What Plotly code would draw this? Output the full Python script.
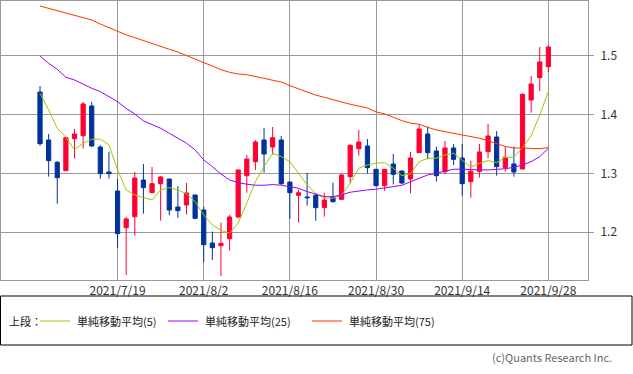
import plotly.graph_objects as go

dates = ["2021/7/6","2021/7/7","2021/7/8","2021/7/9","2021/7/12","2021/7/13","2021/7/14","2021/7/15","2021/7/16",
         "2021/7/19","2021/7/20","2021/7/21","2021/7/22","2021/7/23","2021/7/26","2021/7/27","2021/7/28","2021/7/29","2021/7/30",
         "2021/8/2","2021/8/3","2021/8/4","2021/8/5","2021/8/6","2021/8/9","2021/8/10","2021/8/11","2021/8/12","2021/8/13",
         "2021/8/16","2021/8/17","2021/8/18","2021/8/19","2021/8/20","2021/8/23","2021/8/24","2021/8/25","2021/8/26","2021/8/27",
         "2021/8/30","2021/8/31","2021/9/1","2021/9/2","2021/9/3","2021/9/7","2021/9/8","2021/9/9","2021/9/10","2021/9/13",
         "2021/9/14","2021/9/15","2021/9/16","2021/9/17","2021/9/20","2021/9/21","2021/9/22","2021/9/23","2021/9/24","2021/9/27",
         "2021/9/28"]

open_ = [1.4386,1.3568,1.3188,1.3045,1.3591,1.3642,1.4148,1.3449,1.3023,1.2699,
         1.2074,1.2261,1.2886,1.2670,1.2824,1.2903,1.2426,1.2460,1.2631,1.2375,
         1.1813,1.1767,1.1886,1.2256,1.2960,1.3199,1.3568,1.3449,1.3568,1.2852,
         1.2625,1.2597,1.2625,1.2415,1.2597,1.2557,1.2943,1.3420,1.3466,1.3068,
         1.2790,1.3159,1.3040,1.2903,1.3352,1.3670,1.3381,1.3028,1.3432,1.3261,
         1.2858,1.3034,1.3369,1.3619,1.3097,1.3159,1.3074,1.4250,1.4631,1.4818]
high = [1.4489,1.3670,1.3210,1.3625,1.3756,1.4216,1.4216,1.3477,1.3369,1.2903,
        1.2261,1.3023,1.3159,1.3108,1.2955,1.2903,1.2784,1.2835,1.2631,1.2432,
        1.2006,1.2159,1.2290,1.3057,1.3313,1.3568,1.3773,1.3790,1.3636,1.2852,
        1.2727,1.3006,1.2659,1.2670,1.2841,1.2989,1.3494,1.3739,1.3585,1.3068,
        1.3068,1.3330,1.3040,1.3364,1.3835,1.3795,1.3455,1.3551,1.3500,1.3500,
        1.3216,1.3500,1.3841,1.3722,1.3455,1.3455,1.4364,1.4659,1.5153,1.5182]
low = [1.3472,1.2943,1.2483,1.3045,1.3250,1.3426,1.3449,1.2909,1.2909,1.1727,
       1.1267,1.1938,1.2313,1.2670,1.2193,1.2284,1.2244,1.2295,1.2216,1.1489,
       1.1523,1.1250,1.1682,1.2233,1.2670,1.3057,1.3011,1.3313,1.2801,1.2222,
       1.2159,1.2449,1.2193,1.2261,1.2500,1.2557,1.2830,1.3301,1.3000,1.2773,
       1.2699,1.2812,1.2818,1.2659,1.3352,1.3239,1.2858,1.2989,1.3142,1.2619,
       1.2585,1.2926,1.3256,1.2960,1.3028,1.2943,1.3074,1.4034,1.4403,1.4727]
close = [1.3506,1.3216,1.2926,1.3608,1.3670,1.4182,1.3466,1.2994,1.2994,1.1972,
         1.2222,1.2920,1.2756,1.2824,1.2938,1.2375,1.2364,1.2665,1.2233,1.1784,
         1.1733,1.1807,1.2256,1.3057,1.3244,1.3534,1.3330,1.3608,1.2824,1.2670,
         1.2670,1.2585,1.2415,1.2545,1.2517,1.2972,1.3477,1.3534,1.3097,1.2790,
         1.3068,1.2983,1.2835,1.3261,1.3756,1.3352,1.2960,1.3432,1.3239,1.2824,
         1.3034,1.3364,1.3636,1.3114,1.3273,1.3023,1.4347,1.4523,1.4898,1.5153]

ma5 = [1.4364,1.4080,1.3768,1.3615,1.3399,1.3513,1.3581,1.3581,1.3484,1.3058,
       1.2717,1.2632,1.2586,1.2547,1.2717,1.2756,1.2717,1.2649,1.2518,1.2291,
       1.2121,1.2030,1.1980,1.2150,1.2491,1.2859,1.3114,1.3342,1.3285,1.3199,
       1.3002,1.2802,1.2655,1.2576,1.2576,1.2632,1.2831,1.3087,1.3143,1.3172,
       1.3182,1.3087,1.2961,1.2990,1.3199,1.3257,1.3257,1.3313,1.3342,1.3228,
       1.3104,1.3172,1.3216,1.3182,1.3270,1.3274,1.3444,1.3637,1.3995,1.4392]
ma25 = [1.5000,1.4875,1.4773,1.4637,1.4591,1.4517,1.4450,1.4392,1.4307,1.4221,
        1.4105,1.4012,1.3893,1.3830,1.3768,1.3683,1.3598,1.3513,1.3399,1.3228,
        1.3114,1.2988,1.2888,1.2842,1.2814,1.2797,1.2797,1.2808,1.2797,1.2773,
        1.2746,1.2688,1.2640,1.2603,1.2603,1.2632,1.2678,1.2700,1.2717,1.2729,
        1.2746,1.2773,1.2797,1.2856,1.2917,1.2973,1.3002,1.3041,1.3070,1.3070,
        1.3058,1.3058,1.3058,1.3070,1.3078,1.3104,1.3143,1.3199,1.3285,1.3428]
ma75 = [1.5852,1.5813,1.5767,1.5727,1.5698,1.5659,1.5613,1.5545,1.5482,1.5414,
        1.5360,1.5312,1.5261,1.5204,1.5159,1.5114,1.5068,1.5005,1.4944,1.4886,
        1.4830,1.4767,1.4722,1.4693,1.4681,1.4654,1.4620,1.4586,1.4557,1.4494,
        1.4438,1.4387,1.4333,1.4296,1.4262,1.4216,1.4177,1.4148,1.4114,1.4046,
        1.4012,1.3956,1.3898,1.3856,1.3836,1.3785,1.3739,1.3710,1.3683,1.3654,
        1.3625,1.3598,1.3557,1.3513,1.3458,1.3433,1.3428,1.3421,1.3421,1.3438]

tick_dates = ["2021/7/19", "2021/8/2", "2021/8/16", "2021/8/30", "2021/9/14", "2021/9/28"]
y_ticks = [1.2, 1.3, 1.4, 1.5]
ma_names = ["単純移動平均(5)", "単純移動平均(25)", "単純移動平均(75)"]
ma_colors = ["#99cc00", "#9900ff", "#ff3300"]
legend_title = "上段："

FONT = "Noto Sans CJK JP"
RED = "#ff0033"
BLUE = "#003399"
GRID = "#999999"

W, H = 633, 374
ML, MR, MT, MB = 1, 45, 1, 94
PW, PH = W - ML - MR, H - MT - MB


def px(x):
    return (x - ML) / PW


def py(y):
    return (H - MB - y) / PH


fig = go.Figure()
fig.add_trace(go.Candlestick(
    x=dates, open=open_, high=high, low=low, close=close,
    increasing=dict(line=dict(color=RED, width=1), fillcolor=RED),
    decreasing=dict(line=dict(color=BLUE, width=1), fillcolor=BLUE),
    whiskerwidth=0, showlegend=False, hoverinfo="skip"))

for name, vals, col in zip(ma_names, [ma5, ma25, ma75], ma_colors):
    fig.add_trace(go.Scatter(x=dates, y=vals, mode="lines", name=name,
                             line=dict(color=col, width=1), hoverinfo="skip",
                             showlegend=False))

# legend box and manual legend entries
LEG_Y = 321
shapes = [dict(type="rect", xref="paper", yref="paper",
               x0=px(0.5), x1=px(632), y0=py(296), y1=py(345),
               line=dict(color="black", width=1), fillcolor="rgba(0,0,0,0)")]
annotations = [dict(text=legend_title, xref="paper", yref="paper", x=px(7), y=py(LEG_Y),
                    xanchor="left", yanchor="middle", showarrow=False,
                    font=dict(size=11, color="#222222"))]
line_starts = [40, 168, 312]
for name, col, x0 in zip(ma_names, ma_colors, line_starts):
    shapes.append(dict(type="line", xref="paper", yref="paper",
                       x0=px(x0), x1=px(x0 + 30), y0=py(LEG_Y), y1=py(LEG_Y),
                       line=dict(color=col, width=1)))
    annotations.append(dict(text=name, xref="paper", yref="paper", x=px(x0 + 35), y=py(LEG_Y),
                            xanchor="left", yanchor="middle", showarrow=False,
                            font=dict(size=11, color="#222222")))
annotations.append(dict(text="(c)Quants Research Inc.", xref="paper", yref="paper",
                        x=px(614), y=py(357), xanchor="right", yanchor="middle",
                        showarrow=False, font=dict(size=11, color="#666666")))

fig.update_layout(
    width=W, height=H,
    margin=dict(l=ML, r=MR, t=MT, b=MB),
    paper_bgcolor="white", plot_bgcolor="white",
    font=dict(family=FONT, size=12, color="#333333"),
    showlegend=False,
    shapes=shapes,
    annotations=annotations,
)

fig.update_xaxes(type="category", range=[-4.53, 63.6],
                 tickmode="array", tickvals=tick_dates, ticktext=tick_dates,
                 showgrid=True, gridcolor=GRID, gridwidth=1,
                 showline=True, linecolor=GRID, mirror=True, ticks="",
                 tickfont=dict(size=12, color="#333333"),
                 rangeslider=dict(visible=False))
fig.update_yaxes(side="right", range=[1.1182, 1.5937],
                 tickmode="array", tickvals=y_ticks, tickformat=".1f",
                 showgrid=True, gridcolor=GRID, gridwidth=1,
                 showline=True, linecolor=GRID, mirror=True,
                 ticks="outside", ticklen=5, tickcolor=GRID, ticklabelstandoff=4,
                 tickfont=dict(size=12, color="#333333"), zeroline=False)

fig.write_html("out.html", config={"displayModeBar": False},
               post_script="document.body.style.margin='0';document.body.style.overflow='hidden';")
